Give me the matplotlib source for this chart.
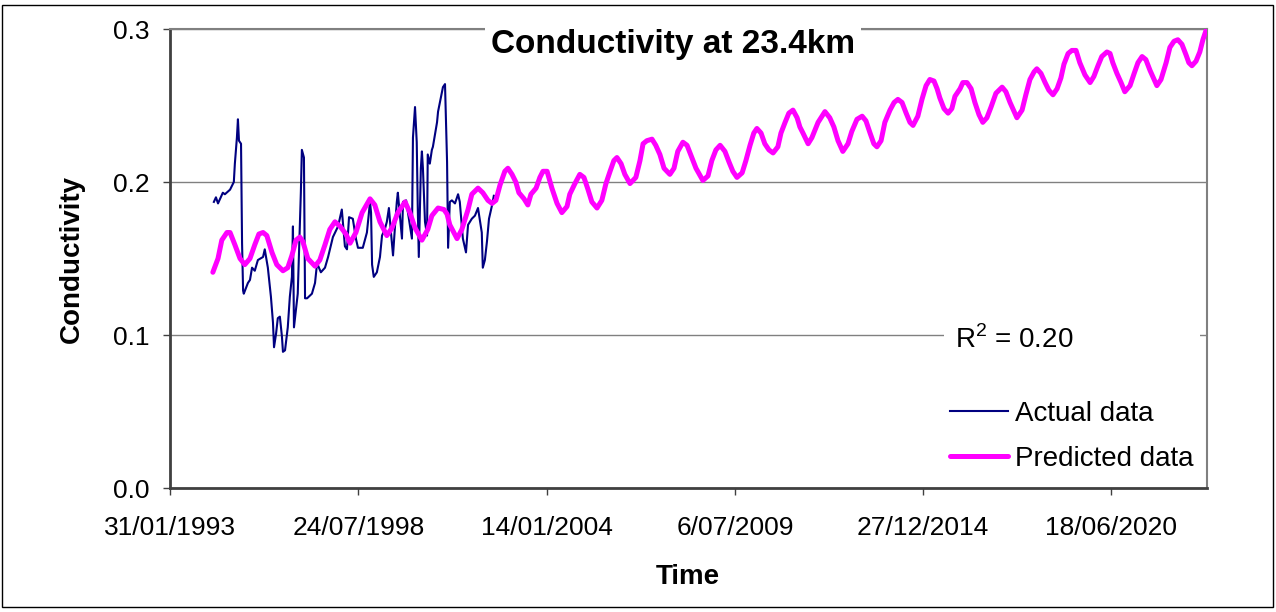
import numpy as np
import pandas as pd
import matplotlib
matplotlib.use('Agg')
from matplotlib import pyplot as plt
from matplotlib.patches import Rectangle

plt.rcParams['font.family'] = ['Liberation Sans', 'DejaVu Sans']
plt.rcParams['mathtext.fontset'] = 'custom'
plt.rcParams['mathtext.rm'] = 'Liberation Sans'

# measured conductivity (decimal year, value)
actual_year = [1994.36, 1994.42, 1994.48, 1994.62, 1994.68, 1994.83, 1994.94, 1994.97, 1995.03, 1995.06,
               1995.09, 1995.15, 1995.18, 1995.21, 1995.23, 1995.35, 1995.41, 1995.47, 1995.55, 1995.64,
               1995.79, 1995.84, 1995.93, 1996.02, 1996.08, 1996.11, 1996.17, 1996.22, 1996.28, 1996.34,
               1996.37, 1996.43, 1996.51, 1996.57, 1996.63, 1996.66, 1996.69, 1996.80, 1996.89, 1996.92,
               1996.98, 1997.01, 1997.07, 1997.21, 1997.30, 1997.36, 1997.47, 1997.59, 1997.68, 1997.82,
               1997.97, 1998.08, 1998.17, 1998.23, 1998.29, 1998.40, 1998.49, 1998.55, 1998.69, 1998.81,
               1998.90, 1998.93, 1998.96, 1999.01, 1999.10, 1999.19, 1999.25, 1999.33, 1999.39, 1999.45,
               1999.51, 1999.57, 1999.63, 1999.68, 1999.71, 1999.77, 1999.83, 1999.86, 1999.95, 2000.12,
               2000.15, 2000.21, 2000.26, 2000.29, 2000.32, 2000.38, 2000.41, 2000.44, 2000.50, 2000.56,
               2000.58, 2000.64, 2000.70, 2000.73, 2000.79, 2000.85, 2000.88, 2000.96, 2001.02, 2001.08,
               2001.14, 2001.17, 2001.22, 2001.28, 2001.37, 2001.46, 2001.51, 2001.60, 2001.69, 2001.75,
               2001.86, 2001.95, 2002.04, 2002.15, 2002.18, 2002.24, 2002.30, 2002.36, 2002.45, 2002.50]
actual_val = [0.187, 0.190, 0.186, 0.193, 0.192, 0.195, 0.200, 0.212, 0.229, 0.241,
              0.227, 0.225, 0.160, 0.129, 0.127, 0.134, 0.136, 0.144, 0.142, 0.149,
              0.151, 0.156, 0.144, 0.125, 0.108, 0.092, 0.101, 0.111, 0.112, 0.099,
              0.089, 0.090, 0.105, 0.125, 0.138, 0.171, 0.105, 0.127, 0.193, 0.221,
              0.216, 0.124, 0.124, 0.127, 0.134, 0.147, 0.141, 0.144, 0.151, 0.164,
              0.171, 0.182, 0.158, 0.156, 0.177, 0.176, 0.163, 0.157, 0.157, 0.167,
              0.187, 0.180, 0.146, 0.138, 0.141, 0.151, 0.165, 0.169, 0.174, 0.183,
              0.167, 0.152, 0.172, 0.187, 0.193, 0.178, 0.163, 0.187, 0.188, 0.163,
              0.229, 0.249, 0.226, 0.183, 0.151, 0.209, 0.220, 0.209, 0.174, 0.165,
              0.218, 0.212, 0.221, 0.223, 0.231, 0.239, 0.246, 0.255, 0.262, 0.264,
              0.213, 0.157, 0.187, 0.188, 0.186, 0.192, 0.187, 0.163, 0.154, 0.172,
              0.176, 0.178, 0.183, 0.167, 0.144, 0.149, 0.161, 0.176, 0.185, 0.191]

# model output (decimal year, value)
pred_year = [1994.33, 1994.48, 1994.59, 1994.74, 1994.83, 1994.97, 1995.12, 1995.26, 1995.41, 1995.55,
             1995.67, 1995.79, 1995.90, 1996.05, 1996.19, 1996.37, 1996.51, 1996.63, 1996.75, 1996.86,
             1996.95, 1997.09, 1997.30, 1997.44, 1997.59, 1997.73, 1997.88, 1998.03, 1998.20, 1998.32,
             1998.49, 1998.67, 1998.90, 1999.04, 1999.19, 1999.39, 1999.54, 1999.71, 1999.92, 2000.06,
             2000.21, 2000.41, 2000.58, 2000.70, 2000.88, 2001.05, 2001.14, 2001.22, 2001.43, 2001.57,
             2001.75, 2001.86, 2002.04, 2002.18, 2002.33, 2002.45, 2002.56, 2002.68, 2002.82, 2002.91,
             2003.03, 2003.14, 2003.23, 2003.38, 2003.49, 2003.58, 2003.73, 2003.84, 2003.93, 2004.05,
             2004.19, 2004.34, 2004.48, 2004.63, 2004.71, 2004.86, 2005.00, 2005.12, 2005.24, 2005.35,
             2005.50, 2005.64, 2005.76, 2005.88, 2005.99, 2006.08, 2006.20, 2006.31, 2006.46, 2006.63,
             2006.75, 2006.84, 2006.95, 2007.10, 2007.21, 2007.33, 2007.45, 2007.62, 2007.74, 2007.85,
             2008.00, 2008.12, 2008.26, 2008.38, 2008.58, 2008.73, 2008.84, 2008.96, 2009.08, 2009.22,
             2009.34, 2009.45, 2009.57, 2009.72, 2009.83, 2009.95, 2010.06, 2010.15, 2010.27, 2010.38,
             2010.50, 2010.62, 2010.76, 2010.85, 2010.97, 2011.08, 2011.20, 2011.32, 2011.40, 2011.49,
             2011.64, 2011.75, 2011.84, 2011.93, 2012.13, 2012.27, 2012.39, 2012.51, 2012.65, 2012.80,
             2012.91, 2013.06, 2013.21, 2013.32, 2013.44, 2013.55, 2013.64, 2013.76, 2013.87, 2014.02,
             2014.14, 2014.25, 2014.37, 2014.49, 2014.60, 2014.69, 2014.83, 2014.95, 2015.07, 2015.18,
             2015.30, 2015.39, 2015.47, 2015.59, 2015.71, 2015.82, 2015.91, 2016.06, 2016.14, 2016.26,
             2016.38, 2016.49, 2016.61, 2016.72, 2016.84, 2016.96, 2017.10, 2017.28, 2017.39, 2017.51,
             2017.63, 2017.71, 2017.86, 2017.97, 2018.09, 2018.21, 2018.29, 2018.41, 2018.53, 2018.64,
             2018.76, 2018.88, 2018.99, 2019.08, 2019.20, 2019.31, 2019.43, 2019.54, 2019.69, 2019.84,
             2019.95, 2020.07, 2020.18, 2020.33, 2020.42, 2020.50, 2020.62, 2020.74, 2020.85, 2021.00,
             2021.12, 2021.23, 2021.35, 2021.46, 2021.58, 2021.70, 2021.78, 2021.90, 2022.05, 2022.16,
             2022.28, 2022.39, 2022.51, 2022.63, 2022.71, 2022.80, 2022.92, 2023.03, 2023.12, 2023.21]
pred_val = [0.141, 0.150, 0.162, 0.167, 0.167, 0.159, 0.150, 0.146, 0.150, 0.159,
            0.166, 0.167, 0.165, 0.154, 0.146, 0.142, 0.144, 0.152, 0.162, 0.164,
            0.161, 0.150, 0.145, 0.149, 0.159, 0.169, 0.174, 0.171, 0.166, 0.160,
            0.167, 0.180, 0.189, 0.185, 0.174, 0.165, 0.170, 0.180, 0.187, 0.180,
            0.170, 0.162, 0.169, 0.178, 0.183, 0.182, 0.179, 0.172, 0.163, 0.169,
            0.182, 0.192, 0.196, 0.193, 0.188, 0.186, 0.188, 0.198, 0.207, 0.209,
            0.205, 0.200, 0.193, 0.189, 0.185, 0.192, 0.196, 0.203, 0.207, 0.207,
            0.196, 0.186, 0.180, 0.184, 0.192, 0.199, 0.205, 0.203, 0.195, 0.187,
            0.183, 0.188, 0.199, 0.207, 0.214, 0.216, 0.212, 0.205, 0.199, 0.203,
            0.214, 0.225, 0.227, 0.228, 0.224, 0.218, 0.209, 0.205, 0.209, 0.220,
            0.226, 0.224, 0.216, 0.209, 0.201, 0.204, 0.214, 0.221, 0.224, 0.220,
            0.213, 0.207, 0.203, 0.206, 0.214, 0.224, 0.232, 0.235, 0.232, 0.225,
            0.221, 0.219, 0.223, 0.232, 0.239, 0.245, 0.247, 0.242, 0.236, 0.232,
            0.225, 0.229, 0.234, 0.239, 0.246, 0.242, 0.236, 0.227, 0.220, 0.225,
            0.233, 0.241, 0.243, 0.240, 0.232, 0.225, 0.223, 0.227, 0.239, 0.247,
            0.252, 0.254, 0.252, 0.245, 0.239, 0.237, 0.243, 0.254, 0.263, 0.267,
            0.266, 0.261, 0.255, 0.248, 0.245, 0.248, 0.256, 0.261, 0.265, 0.265,
            0.261, 0.252, 0.244, 0.239, 0.242, 0.249, 0.258, 0.262, 0.259, 0.252,
            0.246, 0.242, 0.247, 0.257, 0.267, 0.272, 0.274, 0.271, 0.265, 0.260,
            0.257, 0.261, 0.268, 0.277, 0.284, 0.286, 0.286, 0.278, 0.270, 0.265,
            0.269, 0.276, 0.282, 0.285, 0.284, 0.278, 0.271, 0.265, 0.259, 0.263,
            0.271, 0.278, 0.282, 0.280, 0.273, 0.267, 0.263, 0.267, 0.278, 0.288,
            0.292, 0.293, 0.290, 0.283, 0.278, 0.276, 0.279, 0.285, 0.293, 0.299]

r_squared = 0.20


def to_dates(years):
    years = np.asarray(years)
    whole = np.floor(years).astype(int)
    start = pd.to_datetime(whole.astype(str), format='%Y')
    return start + pd.to_timedelta((years - whole) * 365.25, unit='D')


tick_dates = pd.date_range('1993-01-31', periods=6, freq='2000D')
x_end = pd.Timestamp('1993-01-31') + pd.Timedelta(days=11014)

fig = plt.figure(figsize=(12.76, 6.12), dpi=100)
ax = fig.add_axes([0.1332, 0.2026, 0.8127, 0.75])

ax.plot(to_dates(actual_year), actual_val, color='#000080', lw=1.5, label='Actual data', zorder=3)
ax.plot(to_dates(pred_year), pred_val, color='#ff00ff', lw=3.6, label='Predicted data',
        solid_joinstyle='round', solid_capstyle='round', zorder=4)

ax.set_xlim(tick_dates[0], x_end)
ax.set_ylim(0, 0.3)
ax.set_xticks(tick_dates)
ax.set_xticklabels([f'{d.day}/{d.month:02d}/{d.year}' for d in tick_dates])
ax.set_yticks([0, 0.1, 0.2, 0.3])
ax.set_yticklabels(['0.0', '0.1', '0.2', '0.3'])
ax.tick_params(axis='both', labelsize=19, direction='out', length=5, width=1, color='#404040')
ax.tick_params(axis='x', pad=15)
ax.tick_params(axis='y', pad=10)
ax.grid(axis='y', color='#808080', lw=1)

for side in ['top', 'right']:
    ax.spines[side].set_color('#808080')
    ax.spines[side].set_linewidth(1.5)
for side in ['left', 'bottom']:
    ax.spines[side].set_color('#404040')
    ax.spines[side].set_linewidth(2)

ax.set_ylabel('Conductivity', fontsize=20, fontweight='bold')
ax.yaxis.set_label_coords(-0.082, 0.5)
ax.set_xlabel('Time', fontsize=20, fontweight='bold')
ax.xaxis.set_label_coords(0.4995, -0.165)

# blank box behind the R² label, covers the 0.1 gridline
ax.add_patch(Rectangle((0.746, 0.28), 0.247, 0.09, transform=ax.transAxes,
                       facecolor='white', edgecolor='none', zorder=2.5))
ax.text(0.757, 0.3224, 'R$^{\\mathregular{2}}$ = %.2f' % r_squared, transform=ax.transAxes,
        fontsize=20, va='center', ha='left', zorder=5)

ax.legend(loc='upper left', bbox_to_anchor=(0.752, 0.19), frameon=False, fontsize=20,
          handlelength=2.1, handletextpad=0.25, labelspacing=0.68, borderpad=0, borderaxespad=0)

fig.text(0.5274, 1 - 44 / 612, 'Conductivity at 23.4km', fontsize=24, fontweight='bold',
         ha='center', va='center',
         bbox=dict(facecolor='white', edgecolor='none', pad=4))

fig.patches.append(Rectangle((2 / 1276, 5 / 612), 1271 / 1276, 602 / 612, transform=fig.transFigure,
                             fill=False, edgecolor='black', lw=1))

fig.savefig('out.png', dpi=100)
